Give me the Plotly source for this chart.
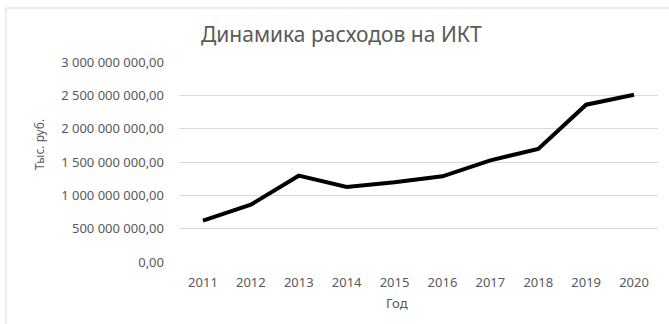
import plotly.graph_objects as go

years = ["2011", "2012", "2013", "2014", "2015", "2016", "2017", "2018", "2019", "2020"]
values = [620e6, 860e6, 1295e6, 1125e6, 1195e6, 1285e6, 1525e6, 1697e6, 2360e6, 2510e6]
y_ticks = [0, 500e6, 1000e6, 1500e6, 2000e6, 2500e6, 3000e6]
y_tick_labels = ["0,00", "500 000 000,00", "1 000 000 000,00", "1 500 000 000,00",
                 "2 000 000 000,00", "2 500 000 000,00", "3 000 000 000,00"]

W, H = 669, 324
L, R, T, B = 179, 11, 62, 62
pw, ph = W - L - R, H - T - B

def px(x):
    return (x - L) / pw

def py(y):
    return (H - B - y) / ph

gray = "#595959"
font = "Noto Sans"

fig = go.Figure()
fig.add_trace(go.Scatter(x=years, y=values, mode="lines",
                         line=dict(color="black", width=4), hoverinfo="x+y"))

fig.update_layout(
    width=W, height=H,
    margin=dict(l=L, r=R, t=T, b=B),
    paper_bgcolor="white", plot_bgcolor="white",
    showlegend=False,
    font=dict(family=font, color=gray, size=13),
    xaxis=dict(type="category", range=[-0.5, len(years) - 0.5],
               showgrid=False, zeroline=False, showline=False,
               ticks="", tickfont=dict(size=13, color=gray), ticklabelstandoff=11),
    yaxis=dict(range=[0, 3000e6], tickvals=y_ticks, ticktext=y_tick_labels,
               showgrid=True, gridcolor="#d9d9d9", gridwidth=1, zeroline=False,
               showline=False, ticks="", tickfont=dict(size=13, color=gray),
               ticklabelstandoff=14),
    shapes=[dict(type="rect", xref="paper", yref="paper",
                 x0=px(6), x1=px(672), y0=py(327), y1=py(8),
                 line=dict(color="#d9d9d9", width=1), fillcolor="rgba(0,0,0,0)", layer="below")],
    annotations=[
        dict(text="Динамика расходов на ИКТ", xref="paper", yref="paper",
             x=px(341), y=py(34), showarrow=False, xanchor="center", yanchor="middle",
             font=dict(size=21, color=gray, family=font)),
        dict(text="Тыс. руб.", xref="paper", yref="paper",
             x=px(39), y=py(145), showarrow=False, xanchor="center", yanchor="middle",
             textangle=-90, font=dict(size=12, color=gray, family=font)),
        dict(text="Год", xref="paper", yref="paper",
             x=px(397), y=py(303), showarrow=False, xanchor="center", yanchor="middle",
             font=dict(size=13, color=gray, family=font)),
    ],
)

fig.write_html("out.html")
